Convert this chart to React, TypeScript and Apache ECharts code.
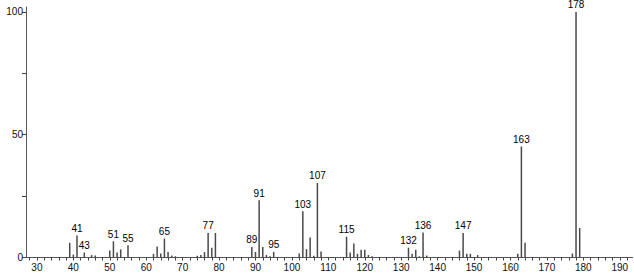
import React, { useEffect, useRef } from "react";
import * as echarts from "echarts";

const mzValues = [39, 40, 41, 43, 45, 46, 50, 51, 52, 53, 55, 62, 63, 64, 65, 66, 67, 68, 74, 75, 76, 77, 78, 79, 89, 90, 91, 92, 93, 94, 95, 102, 103, 104, 105, 106, 107, 108, 115, 116, 117, 118, 119, 120, 121, 122, 132, 133, 134, 135, 136, 137, 146, 147, 148, 149, 151, 162, 163, 164, 177, 178, 179];
const intensities = [6, 1.2, 9, 2, 1, 0.8, 2.8, 6.6, 2, 3.3, 5, 1.5, 4.5, 1.6, 7.7, 2.2, 0.8, 0.5, 0.7, 1, 2.2, 10, 4, 10, 4.3, 2.2, 23.3, 4.3, 1, 0.5, 2.3, 1.6, 18.8, 3.4, 8.1, 0.7, 30.4, 2.4, 8.5, 2, 5.7, 1.5, 3.2, 3.2, 1, 0.5, 4, 1.5, 3.2, 0.5, 10.2, 0.8, 2.8, 10, 1.5, 1.5, 1, 1.5, 45.2, 6, 1.6, 100, 12];
const labeledPeaks = [41, 43, 51, 55, 65, 77, 89, 91, 95, 103, 107, 115, 132, 136, 147, 163, 178];
const xLabelValues = [30, 40, 50, 60, 70, 80, 90, 100, 110, 120, 130, 140, 150, 160, 170, 180, 190];
const xTickValues = [28, 30, 32, 34, 36, 38, 40, 42, 44, 46, 48, 50, 52, 54, 56, 58, 60, 62, 64, 66, 68, 70, 72, 74, 76, 78, 80, 82, 84, 86, 88, 90, 92, 94, 96, 98, 100, 102, 104, 106, 108, 110, 112, 114, 116, 118, 120, 122, 124, 126, 128, 130, 132, 134, 136, 138, 140, 142, 144, 146, 148, 150, 152, 154, 156, 158, 160, 162, 164, 166, 168, 170, 172, 174, 176, 178, 180, 182, 184, 186, 188, 190, 192];
const yTickValues = [0, 25, 50, 75, 100];
const yLabelValues = [0, 50, 100];

export default function App() {
  const ref = useRef<HTMLDivElement>(null);
  useEffect(() => {
    if (!ref.current) return;
    const chart = echarts.init(ref.current, null, { renderer: "svg" });
    const data = mzValues.map((m, i) => {
      const show = labeledPeaks.includes(m);
      return {
        value: [m, intensities[i]],
        label: { show, formatter: String(m) },
      };
    });
    chart.setOption({
      animation: false,
      grid: { left: 26, right: 1.5, top: 7, bottom: 17.5, containLabel: false },
      xAxis: {
        type: "value",
        min: 27,
        max: 193.5,
        axisLine: { show: true, onZero: false, lineStyle: { color: "#555", width: 1 } },
        axisTick: { show: true, inside: false, length: 3, lineStyle: { color: "#444" }, customValues: xTickValues },
        axisLabel: { customValues: xLabelValues, color: "#111", fontSize: 10, fontFamily: "Liberation Sans", margin: 5 },
        splitLine: { show: false },
      },
      yAxis: {
        type: "value",
        min: 0,
        max: 102,
        axisLine: { show: true, lineStyle: { color: "#555", width: 1 } },
        axisTick: { show: true, length: 4, lineStyle: { color: "#444" }, customValues: yTickValues },
        axisLabel: { customValues: yLabelValues, color: "#111", fontSize: 10, fontFamily: "Liberation Sans", margin: 3 },
        splitLine: { show: false },
      },
      series: [
        {
          type: "bar",
          barWidth: 1.5,
          itemStyle: { color: "#4a4a4a" },
          label: { position: "top", distance: 2, color: "#000", fontSize: 10, fontFamily: "Liberation Sans" },
          data,
        },
      ],
    });
    return () => chart.dispose();
  }, []);
  return (
    <div
      ref={ref}
      style={{ position: "fixed", left: 0, top: 0, width: 634, height: 275, background: "#fff" }}
    />
  );
}
